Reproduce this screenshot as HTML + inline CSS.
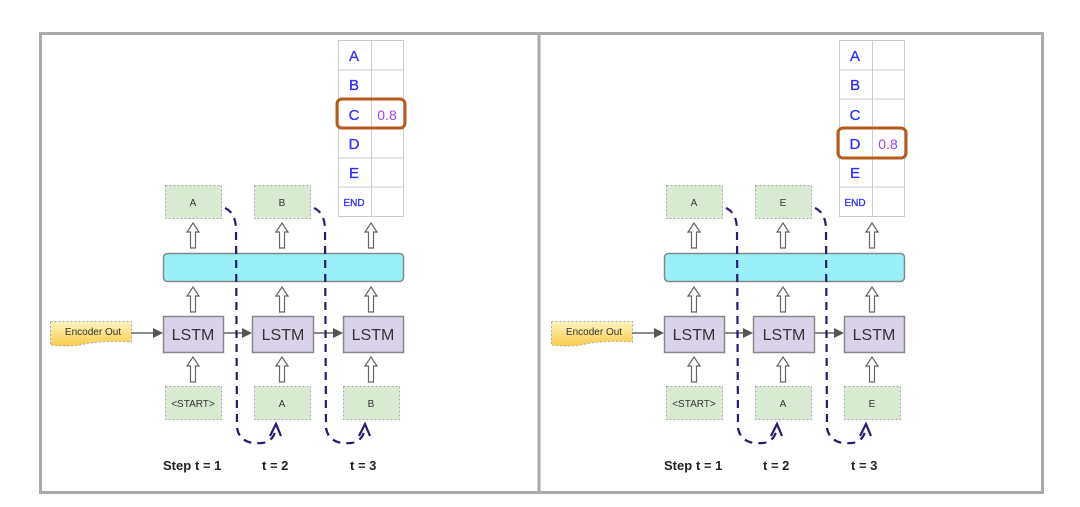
<!DOCTYPE html>
<html><head><meta charset="utf-8"><style>
html,body{margin:0;padding:0;background:#fff;}
svg{display:block;}
text{font-family:"Liberation Sans",Arial,sans-serif;}
</style></head><body>
<svg width="1080" height="507" viewBox="0 0 1080 507" xmlns="http://www.w3.org/2000/svg">
<defs>
<linearGradient id="yg" x1="0" y1="0" x2="0" y2="1"><stop offset="0" stop-color="#fff3c0"/><stop offset="1" stop-color="#f9cc4a"/></linearGradient>
<g id="ha"><path d="M0,0 L6,9 L2.5,9 L2.5,25 L-2.5,25 L-2.5,9 L-6,9 Z" fill="#fff" stroke="#666" stroke-width="1.2"/></g>
</defs>
<rect x="0" y="0" width="1080" height="507" fill="#fff"/>
<rect x="40.5" y="33.5" width="1002" height="459" fill="#fff" stroke="#aaa" stroke-width="3"/>
<line x1="539" y1="34" x2="539" y2="492" stroke="#aaa" stroke-width="3"/>

<g>
<g stroke="#ccc" stroke-width="1" fill="none">
<rect x="338.5" y="40.5" width="65" height="176"/>
<line x1="371.5" y1="40" x2="371.5" y2="216"/>
<line x1="338" y1="70" x2="404" y2="70"/><line x1="338" y1="99" x2="404" y2="99"/><line x1="338" y1="129" x2="404" y2="129"/><line x1="338" y1="158" x2="404" y2="158"/><line x1="338" y1="187" x2="404" y2="187"/>
</g>
<g fill="#2f2fff" font-size="15" text-anchor="middle" stroke="#2f2fff" stroke-width="0.3">
<text x="354" y="61">A</text><text x="354" y="90">B</text><text x="354" y="120">C</text><text x="354" y="149">D</text><text x="354" y="178">E</text><text x="354" y="206" font-size="10">END</text>
</g>
<text x="387" y="120" fill="#a040f0" font-size="14" text-anchor="middle">0.8</text>
<rect x="337" y="99" width="68" height="29" rx="5" fill="none" stroke="#b35c1e" stroke-width="3"/>
<rect x="165.5" y="185.5" width="56" height="33" fill="#d9ead3" stroke="#aaa" stroke-dasharray="2,2"/>
<rect x="254.5" y="185.5" width="56" height="33" fill="#d9ead3" stroke="#aaa" stroke-dasharray="2,2"/>
<text x="193" y="206" font-size="10" text-anchor="middle" fill="#333">A</text>
<text x="282" y="206" font-size="10" text-anchor="middle" fill="#333">B</text>
<use href="#ha" x="193" y="223"/><use href="#ha" x="282" y="223"/><use href="#ha" x="371" y="223"/>
<rect x="163.5" y="253.5" width="240" height="28" rx="4" fill="#99f0f8" stroke="#888" stroke-width="1.5"/>
<use href="#ha" x="193" y="287"/><use href="#ha" x="282" y="287"/><use href="#ha" x="371" y="287"/>
<path d="M50.5,321.5 L131.5,321.5 L131.5,342 Q100,340 80,345 Q65,347 50.5,345 Z" fill="url(#yg)" stroke="#aaa" stroke-dasharray="2,2"/>
<text x="93" y="335" font-size="10" text-anchor="middle" fill="#333">Encoder Out</text>
<g stroke="#666" stroke-width="1.5"><line x1="131" y1="333" x2="156" y2="333"/><line x1="223" y1="333" x2="246" y2="333"/><line x1="313" y1="333" x2="337" y2="333"/></g>
<g fill="#555"><path d="M163,333 L153,328 L153,338Z"/><path d="M252,333 L242,328 L242,338Z"/><path d="M343,333 L333,328 L333,338Z"/></g>
<g fill="#d9d2e9" stroke="#888" stroke-width="1.5">
<rect x="163.5" y="316.5" width="60" height="36"/><rect x="252.5" y="316.5" width="61" height="36"/><rect x="343.5" y="316.5" width="60" height="36"/>
</g>
<g font-size="16" text-anchor="middle" fill="#333"><text x="193" y="340">LSTM</text><text x="283" y="340">LSTM</text><text x="373" y="340">LSTM</text></g>
<use href="#ha" x="193" y="357"/><use href="#ha" x="282" y="357"/><use href="#ha" x="371" y="357"/>
<g fill="#d9ead3" stroke="#aaa" stroke-dasharray="2,2">
<rect x="165.5" y="386.5" width="56" height="33"/><rect x="254.5" y="386.5" width="56" height="33"/><rect x="343.5" y="386.5" width="56" height="33"/>
</g>
<g font-size="10" text-anchor="middle" fill="#333"><text x="193" y="407">&lt;START&gt;</text><text x="282" y="407">A</text><text x="371" y="407">B</text></g>
<g fill="none" stroke="#2a1a70" stroke-width="2.2">
<path d="M225,208 Q236,213 236,230 L237,428 Q240,445 262,443 Q272,442 275,432" stroke-dasharray="8,6"/>
<path d="M314,208 Q325,213 325,230 L326,428 Q329,445 351,443 Q361,442 364,432" stroke-dasharray="8,6"/>
<path d="M270,436 L276,424 L281,436"/><path d="M359,436 L365,424 L370,436"/>
</g>
<g font-size="13" font-weight="bold" fill="#222"><text x="163" y="470">Step</text><text x="195" y="470">t = 1</text><text x="262" y="470">t = 2</text><text x="350" y="470">t = 3</text></g>
</g>

<g transform="translate(501,0)">
<g stroke="#ccc" stroke-width="1" fill="none">
<rect x="338.5" y="40.5" width="65" height="176"/>
<line x1="371.5" y1="40" x2="371.5" y2="216"/>
<line x1="338" y1="70" x2="404" y2="70"/><line x1="338" y1="99" x2="404" y2="99"/><line x1="338" y1="129" x2="404" y2="129"/><line x1="338" y1="158" x2="404" y2="158"/><line x1="338" y1="187" x2="404" y2="187"/>
</g>
<g fill="#2f2fff" font-size="15" text-anchor="middle" stroke="#2f2fff" stroke-width="0.3">
<text x="354" y="61">A</text><text x="354" y="90">B</text><text x="354" y="120">C</text><text x="354" y="149">D</text><text x="354" y="178">E</text><text x="354" y="206" font-size="10">END</text>
</g>
<text x="387" y="149" fill="#a040f0" font-size="14" text-anchor="middle">0.8</text>
<rect x="337" y="128" width="68" height="30" rx="5" fill="none" stroke="#b35c1e" stroke-width="3"/>
<rect x="165.5" y="185.5" width="56" height="33" fill="#d9ead3" stroke="#aaa" stroke-dasharray="2,2"/>
<rect x="254.5" y="185.5" width="56" height="33" fill="#d9ead3" stroke="#aaa" stroke-dasharray="2,2"/>
<text x="193" y="206" font-size="10" text-anchor="middle" fill="#333">A</text>
<text x="282" y="206" font-size="10" text-anchor="middle" fill="#333">E</text>
<use href="#ha" x="193" y="223"/><use href="#ha" x="282" y="223"/><use href="#ha" x="371" y="223"/>
<rect x="163.5" y="253.5" width="240" height="28" rx="4" fill="#99f0f8" stroke="#888" stroke-width="1.5"/>
<use href="#ha" x="193" y="287"/><use href="#ha" x="282" y="287"/><use href="#ha" x="371" y="287"/>
<path d="M50.5,321.5 L131.5,321.5 L131.5,342 Q100,340 80,345 Q65,347 50.5,345 Z" fill="url(#yg)" stroke="#aaa" stroke-dasharray="2,2"/>
<text x="93" y="335" font-size="10" text-anchor="middle" fill="#333">Encoder Out</text>
<g stroke="#666" stroke-width="1.5"><line x1="131" y1="333" x2="156" y2="333"/><line x1="223" y1="333" x2="246" y2="333"/><line x1="313" y1="333" x2="337" y2="333"/></g>
<g fill="#555"><path d="M163,333 L153,328 L153,338Z"/><path d="M252,333 L242,328 L242,338Z"/><path d="M343,333 L333,328 L333,338Z"/></g>
<g fill="#d9d2e9" stroke="#888" stroke-width="1.5">
<rect x="163.5" y="316.5" width="60" height="36"/><rect x="252.5" y="316.5" width="61" height="36"/><rect x="343.5" y="316.5" width="60" height="36"/>
</g>
<g font-size="16" text-anchor="middle" fill="#333"><text x="193" y="340">LSTM</text><text x="283" y="340">LSTM</text><text x="373" y="340">LSTM</text></g>
<use href="#ha" x="193" y="357"/><use href="#ha" x="282" y="357"/><use href="#ha" x="371" y="357"/>
<g fill="#d9ead3" stroke="#aaa" stroke-dasharray="2,2">
<rect x="165.5" y="386.5" width="56" height="33"/><rect x="254.5" y="386.5" width="56" height="33"/><rect x="343.5" y="386.5" width="56" height="33"/>
</g>
<g font-size="10" text-anchor="middle" fill="#333"><text x="193" y="407">&lt;START&gt;</text><text x="282" y="407">A</text><text x="371" y="407">E</text></g>
<g fill="none" stroke="#2a1a70" stroke-width="2.2">
<path d="M225,208 Q236,213 236,230 L237,428 Q240,445 262,443 Q272,442 275,432" stroke-dasharray="8,6"/>
<path d="M314,208 Q325,213 325,230 L326,428 Q329,445 351,443 Q361,442 364,432" stroke-dasharray="8,6"/>
<path d="M270,436 L276,424 L281,436"/><path d="M359,436 L365,424 L370,436"/>
</g>
<g font-size="13" font-weight="bold" fill="#222"><text x="163" y="470">Step</text><text x="195" y="470">t = 1</text><text x="262" y="470">t = 2</text><text x="350" y="470">t = 3</text></g>
</g>
</svg>
</body></html>
